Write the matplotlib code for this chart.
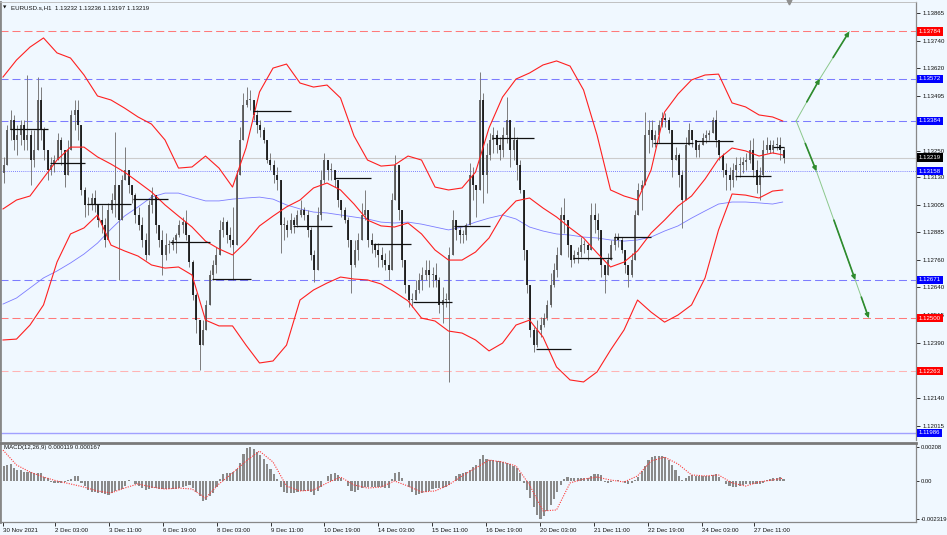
import numpy as np
import matplotlib
matplotlib.use('Agg')
import matplotlib.pyplot as plt
import matplotlib.transforms as mtransforms

plt.rcParams['font.family'] = ['Liberation Sans', 'DejaVu Sans']

# ---------------- DATA ----------------
# 2-hour candles (slot k spans hourly bars 2k, 2k+1)
first_open = 1.13150
high = [1.13222, 1.13365, 1.13432, 1.13410, 1.13365, 1.13387, 1.13387, 1.13589, 1.13343, 1.13343,
        1.13580, 1.13535, 1.13356, 1.13231, 1.13222, 1.13231, 1.13329, 1.13311, 1.13253, 1.13298,
        1.13432, 1.13477, 1.13477, 1.13320, 1.13087, 1.13042, 1.13060, 1.13074, 1.12993, 1.13007,
        1.12948, 1.13016, 1.13060, 1.13334, 1.13074, 1.13141, 1.13266, 1.13163, 1.13096, 1.13060,
        1.12998, 1.12953, 1.12881, 1.13029, 1.13087, 1.12998, 1.12908, 1.12895, 1.12881, 1.12850,
        1.12863, 1.12881, 1.12939, 1.12953, 1.12984, 1.12850, 1.12760, 1.12612, 1.12491, 1.12491,
        1.12581, 1.12715, 1.12760, 1.12818, 1.12939, 1.12953, 1.12939, 1.12908, 1.12998, 1.13163,
        1.13356, 1.13508, 1.13535, 1.13522, 1.13464, 1.13432, 1.13387, 1.13356, 1.13298, 1.13240,
        1.13208, 1.13177, 1.13096, 1.12953, 1.12939, 1.12971, 1.12953, 1.12984, 1.13029, 1.12998,
        1.12984, 1.12908, 1.12805, 1.12998, 1.13163, 1.13240, 1.13208, 1.13195, 1.13163, 1.13105,
        1.13016, 1.12998, 1.12953, 1.12818, 1.12850, 1.12881, 1.13016, 1.13074, 1.12926, 1.12881,
        1.12836, 1.12836, 1.12818, 1.12792, 1.12805, 1.13060, 1.13231, 1.13119, 1.12953, 1.12729,
        1.12639, 1.12612, 1.12671, 1.12702, 1.12729, 1.12760, 1.12760, 1.12729, 1.12747, 1.12684,
        1.12639, 1.12612, 1.12818, 1.12984, 1.12939, 1.12908, 1.12895, 1.12926, 1.13195, 1.13177,
        1.13087, 1.13602, 1.13508, 1.13284, 1.13329, 1.13356, 1.13343, 1.13311, 1.13356, 1.13490,
        1.13387, 1.13356, 1.13311, 1.13208, 1.13060, 1.12792, 1.12612, 1.12460, 1.12491, 1.12505,
        1.12523, 1.12581, 1.12702, 1.12747, 1.12818, 1.12998, 1.13038, 1.12908, 1.12818, 1.12805,
        1.12818, 1.12863, 1.12850, 1.12836, 1.13016, 1.13016, 1.12971, 1.12836, 1.12729, 1.12792,
        1.12850, 1.12881, 1.12881, 1.12863, 1.12792, 1.12729, 1.12792, 1.12984, 1.13105, 1.13119,
        1.13423, 1.13387, 1.13387, 1.13343, 1.13387, 1.13423, 1.13419, 1.13401, 1.13298, 1.13266,
        1.13240, 1.13163, 1.13311, 1.13374, 1.13343, 1.13298, 1.13284, 1.13329, 1.13343, 1.13343,
        1.13401, 1.13432, 1.13284, 1.13240, 1.13195, 1.13177, 1.13195, 1.13222, 1.13222, 1.13222,
        1.13240, 1.13298, 1.13307, 1.13208, 1.13177, 1.13298, 1.13311, 1.13298, 1.13298, 1.13311,
        1.13311, 1.13266]
low = [1.13105, 1.13186, 1.13298, 1.13253, 1.13231, 1.13275, 1.13253, 1.13253, 1.13096, 1.13177,
       1.13253, 1.13298, 1.13208, 1.13119, 1.13141, 1.13154, 1.13208, 1.13186, 1.13087, 1.13186,
       1.13253, 1.13343, 1.13298, 1.13051, 1.12953, 1.12962, 1.12984, 1.12975, 1.12908, 1.12881,
       1.12818, 1.12908, 1.12971, 1.12953, 1.12671, 1.12998, 1.13119, 1.13060, 1.13016, 1.12926,
       1.12895, 1.12818, 1.12760, 1.12881, 1.12971, 1.12881, 1.12818, 1.12693, 1.12760, 1.12792,
       1.12805, 1.12792, 1.12863, 1.12881, 1.12850, 1.12729, 1.12581, 1.12433, 1.12267, 1.12388,
       1.12447, 1.12581, 1.12671, 1.12702, 1.12792, 1.12863, 1.12836, 1.12818, 1.12671, 1.12998,
       1.13150, 1.13329, 1.13446, 1.13432, 1.13387, 1.13329, 1.13311, 1.13284, 1.13195, 1.13163,
       1.13105, 1.13074, 1.12792, 1.12850, 1.12863, 1.12881, 1.12881, 1.12908, 1.12953, 1.12939,
       1.12863, 1.12760, 1.12662, 1.12729, 1.12939, 1.13105, 1.13119, 1.13119, 1.13087, 1.12998,
       1.12953, 1.12926, 1.12818, 1.12612, 1.12729, 1.12760, 1.12881, 1.12939, 1.12818, 1.12792,
       1.12774, 1.12729, 1.12729, 1.12715, 1.12671, 1.12818, 1.13087, 1.12939, 1.12729, 1.12612,
       1.12550, 1.12550, 1.12581, 1.12612, 1.12626, 1.12671, 1.12639, 1.12639, 1.12639, 1.12523,
       1.12478, 1.12550, 1.12214, 1.12818, 1.12850, 1.12836, 1.12836, 1.12850, 1.12939, 1.13029,
       1.12953, 1.13266, 1.13016, 1.13060, 1.13208, 1.13240, 1.13240, 1.13208, 1.13222, 1.13284,
       1.13177, 1.13208, 1.13119, 1.13060, 1.12760, 1.12612, 1.12415, 1.12348, 1.12370, 1.12415,
       1.12460, 1.12491, 1.12550, 1.12639, 1.12684, 1.12792, 1.12881, 1.12774, 1.12729, 1.12747,
       1.12747, 1.12774, 1.12792, 1.12760, 1.12818, 1.12881, 1.12850, 1.12684, 1.12612, 1.12702,
       1.12760, 1.12805, 1.12818, 1.12792, 1.12702, 1.12639, 1.12684, 1.12792, 1.12971, 1.12984,
       1.13208, 1.13240, 1.13266, 1.13266, 1.13284, 1.13356, 1.13356, 1.13329, 1.13132, 1.13208,
       1.13087, 1.12904, 1.13119, 1.13284, 1.13266, 1.13222, 1.13222, 1.13284, 1.13284, 1.13298,
       1.13329, 1.13266, 1.13208, 1.13132, 1.13074, 1.13074, 1.13087, 1.13119, 1.13132, 1.13150,
       1.13163, 1.13195, 1.13132, 1.13060, 1.13029, 1.13132, 1.13240, 1.13240, 1.13240, 1.13253,
       1.13208, 1.13195]
close = [1.13186, 1.13343, 1.13387, 1.13298, 1.13320, 1.13365, 1.13298, 1.13320, 1.13208, 1.13253,
         1.13477, 1.13343, 1.13253, 1.13163, 1.13186, 1.13208, 1.13298, 1.13253, 1.13141, 1.13253,
         1.13410, 1.13432, 1.13365, 1.13074, 1.13007, 1.13007, 1.13038, 1.13007, 1.12939, 1.12917,
         1.12850, 1.12984, 1.13029, 1.13096, 1.12939, 1.13119, 1.13163, 1.13096, 1.13051, 1.12962,
         1.12917, 1.12850, 1.12783, 1.13007, 1.13051, 1.12917, 1.12850, 1.12783, 1.12827, 1.12827,
         1.12850, 1.12872, 1.12917, 1.12930, 1.12872, 1.12751, 1.12603, 1.12491, 1.12379, 1.12447,
         1.12559, 1.12693, 1.12738, 1.12783, 1.12895, 1.12930, 1.12872, 1.12850, 1.12827, 1.13141,
         1.13298, 1.13455, 1.13477, 1.13477, 1.13410, 1.13365, 1.13343, 1.13298, 1.13208, 1.13186,
         1.13141, 1.13119, 1.12917, 1.12917, 1.12895, 1.12939, 1.12917, 1.12962, 1.12984, 1.12962,
         1.12895, 1.12783, 1.12715, 1.12962, 1.13119, 1.13208, 1.13163, 1.13163, 1.13119, 1.13029,
         1.12984, 1.12939, 1.12850, 1.12738, 1.12805, 1.12850, 1.12962, 1.12984, 1.12850, 1.12827,
         1.12805, 1.12783, 1.12760, 1.12738, 1.12715, 1.13029, 1.13186, 1.12984, 1.12760, 1.12648,
         1.12581, 1.12581, 1.12626, 1.12671, 1.12693, 1.12715, 1.12693, 1.12693, 1.12671, 1.12559,
         1.12581, 1.12581, 1.12783, 1.12939, 1.12895, 1.12872, 1.12872, 1.12917, 1.13141, 1.13096,
         1.13074, 1.13477, 1.13141, 1.13231, 1.13298, 1.13320, 1.13275, 1.13253, 1.13320, 1.13387,
         1.13253, 1.13298, 1.13186, 1.13074, 1.12805, 1.12648, 1.12447, 1.12379, 1.12447, 1.12469,
         1.12500, 1.12559, 1.12648, 1.12715, 1.12783, 1.12962, 1.12939, 1.12827, 1.12760, 1.12783,
         1.12796, 1.12827, 1.12827, 1.12805, 1.12962, 1.12939, 1.12895, 1.12738, 1.12693, 1.12760,
         1.12827, 1.12863, 1.12850, 1.12805, 1.12738, 1.12693, 1.12760, 1.12962, 1.13074, 1.13096,
         1.13320, 1.13343, 1.13298, 1.13320, 1.13365, 1.13396, 1.13387, 1.13343, 1.13208, 1.13231,
         1.13141, 1.13029, 1.13275, 1.13343, 1.13298, 1.13253, 1.13275, 1.13307, 1.13320, 1.13329,
         1.13387, 1.13298, 1.13231, 1.13163, 1.13141, 1.13119, 1.13163, 1.13186, 1.13186, 1.13199,
         1.13208, 1.13253, 1.13163, 1.13096, 1.13141, 1.13253, 1.13275, 1.13253, 1.13275, 1.13275,
         1.13253, 1.13219]

# indicator samples every 8 hourly bars (+ last bar)
ind_hours = list(range(0, 464, 8)) + [462]
bb_upper = [1.13580, 1.13656, 1.13714, 1.13755, 1.13688, 1.13665, 1.13589, 1.13495, 1.13477, 1.13441,
            1.13401, 1.13369, 1.13298, 1.13172, 1.13177, 1.13226, 1.13172, 1.13087, 1.13262, 1.13513,
            1.13620, 1.13638, 1.13553, 1.13535, 1.13544, 1.13486, 1.13316, 1.13208, 1.13181, 1.13186,
            1.13226, 1.13208, 1.13087, 1.13074, 1.13083, 1.13154, 1.13352, 1.13490, 1.13571, 1.13598,
            1.13634, 1.13652, 1.13629, 1.13522, 1.13320, 1.13074, 1.13047, 1.13029, 1.13163, 1.13423,
            1.13504, 1.13567, 1.13589, 1.13593, 1.13464, 1.13446, 1.13410, 1.13401, 1.13383]
bb_middle = [1.12989, 1.13029, 1.13047, 1.13128, 1.13208, 1.13266, 1.13266, 1.13222, 1.13190, 1.13154,
             1.13110, 1.13065, 1.13007, 1.12957, 1.12908, 1.12845, 1.12810, 1.12783, 1.12841, 1.12913,
             1.12957, 1.12998, 1.13029, 1.13083, 1.13105, 1.13074, 1.13011, 1.12939, 1.12913, 1.12908,
             1.12926, 1.12877, 1.12805, 1.12760, 1.12760, 1.12796, 1.12859, 1.12962, 1.13025, 1.13038,
             1.12993, 1.12953, 1.12904, 1.12859, 1.12792, 1.12729, 1.12751, 1.12801, 1.12881, 1.12939,
             1.13002, 1.13047, 1.13123, 1.13213, 1.13262, 1.13249, 1.13226, 1.13240, 1.13231]
bb_lower = [1.12402, 1.12406, 1.12469, 1.12559, 1.12751, 1.12877, 1.12904, 1.12962, 1.12827, 1.12801,
            1.12778, 1.12738, 1.12724, 1.12729, 1.12693, 1.12491, 1.12465, 1.12465, 1.12379, 1.12299,
            1.12308, 1.12379, 1.12581, 1.12626, 1.12657, 1.12684, 1.12675, 1.12671, 1.12653, 1.12617,
            1.12577, 1.12500, 1.12487, 1.12442, 1.12433, 1.12402, 1.12353, 1.12388, 1.12469, 1.12491,
            1.12415, 1.12281, 1.12223, 1.12214, 1.12259, 1.12357, 1.12447, 1.12581, 1.12527, 1.12482,
            1.12514, 1.12559, 1.12680, 1.12895, 1.13056, 1.13051, 1.13038, 1.13069, 1.13074]
ma_blue = [1.12563, 1.12590, 1.12635, 1.12680, 1.12711, 1.12747, 1.12787, 1.12836, 1.12899, 1.12957,
           1.12998, 1.13042, 1.13060, 1.13060, 1.13042, 1.13025, 1.13025, 1.13033, 1.13038, 1.13042,
           1.13033, 1.13007, 1.12989, 1.12975, 1.12971, 1.12962, 1.12953, 1.12944, 1.12930, 1.12926,
           1.12930, 1.12921, 1.12908, 1.12895, 1.12908, 1.12930, 1.12948, 1.12962, 1.12944, 1.12908,
           1.12890, 1.12877, 1.12872, 1.12863, 1.12859, 1.12850, 1.12845, 1.12850, 1.12863, 1.12890,
           1.12913, 1.12948, 1.12980, 1.13011, 1.13020, 1.13020, 1.13016, 1.13011, 1.13020]

# MACD (units of 1e-5)
macd_hist = [92, 98, 104, 79, 67, 67, 55, 55, 55, 49,
             49, 49, 24, 18, -6, -12, -12, -12, -6, 6,
             12, 31, 31, -12, -31, -55, -67, -67, -73, -73,
             -79, -85, -73, -61, -55, -49, -31, 6, 0, -18,
             -31, -43, -55, -49, -43, -43, -49, -49, -49, -49,
             -49, -49, -43, -37, -31, -24, -43, -67, -92, -122,
             -116, -92, -73, -37, 12, 43, 49, 49, 55, 73,
             110, 165, 201, 207, 195, 177, 159, 134, 104, 73,
             43, 12, -37, -67, -73, -73, -73, -67, -61, -61,
             -61, -67, -85, -61, -37, 0, 31, 43, 49, 37,
             18, 0, -31, -61, -67, -55, -43, -37, -37, -37,
             -37, -37, -37, -43, -43, 12, 49, 55, 18, 0,
             -37, -67, -85, -79, -73, -67, -61, -49, -43, -43,
             -43, -37, -24, 0, 31, 43, 49, 55, 67, 85,
             98, 134, 159, 134, 128, 128, 122, 122, 116, 110,
             104, 92, 79, 49, -12, -55, -104, -159, -207, -232,
             -214, -183, -146, -110, -67, -24, 12, 24, 18, 18,
             18, 18, 18, 18, 31, 43, 43, 37, -6, -12,
             -6, 0, 6, 0, -12, -18, -12, 6, 24, 61,
             92, 128, 146, 153, 153, 153, 146, 128, 98, 67,
             31, 6, 18, 31, 37, 31, 31, 31, 31, 31,
             37, 43, 24, 0, -18, -31, -37, -37, -31, -24,
             -18, -18, -18, -18, -18, -12, 6, 12, 18, 18,
             24, 12]
macd_signal = [189, 98, 55, 24, 0, -18, -37, -61, -73, -43,
               -18, -37, -49, -43, -49, -104, -18, 49, 122, 183,
               116, -31, -61, -55, -12, 24, -24, -43, -37, 0,
               -31, -67, -61, -24, 31, 79, 128, 116, 92, -24,
               -183, -177, -12, 12, 24, 6, -6, 31, 122, 146,
               104, 37, 31, 37, -12, -31, -6, 6, 17]

# daily open segments
day_start = [4, 28, 50, 77, 99, 124, 148, 172, 196, 219, 243, 267, 290, 316, 338, 362, 385, 410, 434, 456]
day_open = [1.13347, 1.13195, 1.13011, 1.13033, 1.12841, 1.12675, 1.13428, 1.12913, 1.13128, 1.12832,
            1.12572, 1.12913, 1.13307, 1.12361, 1.12769, 1.12863, 1.13284, 1.13293, 1.13137, 1.13266]

# levels
red_levels = [1.13784, 1.12500]
pink_levels = [1.12263]
blue_levels = [1.13572, 1.13384, 1.12671]
dotted_level = 1.13158
solid_level = 1.11986
last_price = 1.13219

# projection arrows (hour index, price)
up_t = [470, 484, 501.5]
up_p = [1.13384, 1.13572, 1.13784]
dn_t = [470, 482, 505, 513]
dn_p = [1.13384, 1.13158, 1.12671, 1.12500]

price_ticks = [1.13865, 1.13740, 1.13620, 1.13495, 1.13250, 1.13130, 1.13005, 1.12885,
               1.12760, 1.12640, 1.12515, 1.12390, 1.12140, 1.12015]
box_levels = [1.13784, 1.13572, 1.13384, 1.13219, 1.13158, 1.12671, 1.12500, 1.12263, 1.11986]
box_colors = ['#ff0000', '#0000ff', '#0000ff', '#000000', '#0000ff', '#0000ff', '#ff0000', '#ff0000', '#0000ff']

date_ticks = [0, 31, 63, 95, 127, 159, 190, 222, 254, 286, 318, 350, 382, 414, 445]
date_labels = ['30 Nov 2021', '2 Dec 03:00', '3 Dec 11:00', '6 Dec 19:00', '8 Dec 03:00', '9 Dec 11:00',
               '10 Dec 19:00', '14 Dec 03:00', '15 Dec 11:00', '16 Dec 19:00', '20 Dec 03:00',
               '21 Dec 11:00', '22 Dec 19:00', '24 Dec 03:00', '27 Dec 11:00']

# ---------------- FIGURE ----------------
W, H = 947, 535
BG = '#f0f8ff'
fig = plt.figure(figsize=(W / 100, H / 100), dpi=100)
fig.patch.set_facecolor(BG)

def fx(px):
    return px / W

def fy(py):
    return 1 - py / H

ax = fig.add_axes([0, fy(440), fx(916), (440 - 2) / H])
axm = fig.add_axes([0, fy(522), fx(916), (522 - 443) / H])
XL = (-1.78, 541.0)
FS = 4.4
DASH = (0, (7.7, 3.8))

for a in (ax, axm):
    a.set_facecolor(BG)
    a.set_xlim(*XL)

ax.set_ylim(1.11954, 1.13916)

# level lines
full = XL
for lv in red_levels:
    ax.hlines(lv, *full, color='#ff7a7a', lw=0.75, ls=DASH, zorder=1)
for lv in pink_levels:
    ax.hlines(lv, *full, color='#ffb4b4', lw=0.75, ls=DASH, zorder=1)
for lv in blue_levels:
    ax.hlines(lv, *full, color='#7c7cff', lw=0.75, ls=DASH, zorder=1)
ax.hlines(dotted_level, *full, color='#5a5aff', lw=0.6, ls=(0, (1, 1.5)), zorder=1)
ax.hlines(solid_level, *full, color='#a0a0ff', lw=1.0, zorder=1)
ax.hlines(last_price, *full, color='#cccccc', lw=0.8, zorder=1)

# indicators
ax.plot(ind_hours, ma_blue, color='#7c7cff', lw=0.6, zorder=2)
for band in (bb_upper, bb_middle, bb_lower):
    ax.plot(ind_hours, band, color='#ff2020', lw=0.8, zorder=5)

# candles
hi_a = np.array(high)
lo_a = np.array(low)
cl_a = np.array(close)
op_a = np.concatenate([[first_open], cl_a[:-1]])
hi_a = np.maximum(hi_a, np.maximum(op_a, cl_a))
lo_a = np.minimum(lo_a, np.minimum(op_a, cl_a))
t = 2 * np.arange(len(cl_a)) + 0.5
ax.vlines(t, lo_a, hi_a, color='#7c7c7c', lw=0.7, zorder=3)
b_lo = np.minimum(op_a, cl_a)
b_hi = np.maximum(np.maximum(op_a, cl_a), b_lo + 0.00004)
bear = cl_a < op_a
ax.vlines(t[bear], b_lo[bear], b_hi[bear], color='#111111', lw=1.25, zorder=4)
ax.vlines(t[~bear], b_lo[~bear], b_hi[~bear], color='#555555', lw=1.25, zorder=4)

# daily open segments
ds = np.array(day_start, dtype=float)
de = np.concatenate([ds[1:] - 1.2, [463.0]])
ax.hlines(day_open, ds, de, color='#111111', lw=0.9, zorder=6)

# arrows
def arrow_path(ts, ps):
    for i in range(len(ts) - 1):
        t0, p0, t1, p1 = ts[i], ps[i], ts[i + 1], ps[i + 1]
        ax.plot([t0, t1], [p0, p1], color='#8cc88c', lw=0.7, zorder=6)
        tm = t0 + 0.45 * (t1 - t0)
        pm = p0 + 0.45 * (p1 - p0)
        ax.annotate('', xy=(t1, p1), xytext=(tm, pm),
                    arrowprops=dict(arrowstyle='-|>', color='#2e8b2e', lw=1.2,
                                    mutation_scale=6, shrinkA=0, shrinkB=0), zorder=7)

arrow_path(up_t, up_p)
arrow_path(dn_t, dn_p)

# right price axis
ax.yaxis.tick_right()
ax.set_yticks(price_ticks)
ax.set_yticklabels([f'{v:.5f}' for v in price_ticks])
ax.tick_params(axis='y', labelsize=FS, length=3, width=0.6, pad=2, colors='#111111')
ax.set_xticks([])

trans = mtransforms.blended_transform_factory(ax.transAxes, ax.transData)
for lv, col in zip(box_levels, box_colors):
    ax.text(1.0 + 3.0 / 916, lv, f'{lv:.5f}', transform=trans, ha='left', va='center',
            fontsize=FS, color='white', clip_on=False, zorder=20,
            bbox=dict(boxstyle='square,pad=0.28', fc=col, ec='none'))

# spines
for s in ax.spines.values():
    s.set_color('#888888')
ax.spines['left'].set_linewidth(2.0)
ax.spines['right'].set_linewidth(0.9)
ax.spines['top'].set_linewidth(0.6)
ax.spines['top'].set_color('#b8b8b8')
ax.spines['bottom'].set_visible(False)

# shift marker
ax.plot([466], [1.0], transform=mtransforms.blended_transform_factory(ax.transData, ax.transAxes),
        marker='v', ms=3.5, color='#909090', clip_on=False, zorder=8)

# MACD panel
mh = np.array(macd_hist) * 1e-5
axm.bar(t, mh, width=1.25, color='#8a8a8a', edgecolor='none', zorder=2)
axm.plot(ind_hours, np.array(macd_signal) * 1e-5, color='#ff3a3a', lw=0.8,
         ls=(0, (1, 1.2)), zorder=3)
axm.set_ylim(-0.002506, 0.002323)
axm.yaxis.tick_right()
axm.set_yticks([0.00208, 0.0, -0.002319])
axm.set_yticklabels(['0.00208', '0.00', '-0.002319'])
axm.tick_params(axis='y', labelsize=4.2, length=2, width=0.6, pad=1.2, colors='#111111')
axm.set_xticks(date_ticks)
axm.set_xticklabels(date_labels)
axm.tick_params(axis='x', labelsize=FS, length=3, width=0.6, pad=1, colors='#111111')
for lab in axm.get_xticklabels():
    lab.set_ha('left')
for s in axm.spines.values():
    s.set_color('#888888')
axm.spines['top'].set_linewidth(2.0)
axm.spines['top'].set_color('#7a7a7a')
axm.spines['left'].set_linewidth(2.0)
axm.spines['right'].set_linewidth(0.9)
axm.spines['bottom'].set_linewidth(0.9)

# texts
fig.text(fx(3), fy(7.5), '\u25bc', fontsize=3.2, va='center', ha='left', color='#111111',
         family=['DejaVu Sans'])
fig.text(fx(11), fy(7.5), 'EURUSD.s,H1  1.13232 1.13236 1.13197 1.13219', fontsize=FS,
         va='center', ha='left', color='#111111')
fig.text(fx(4), fy(448), 'MACD(12,26,9) 0.000119 0.000167', fontsize=FS,
         va='center', ha='left', color='#111111')

fig.savefig('out.png', dpi=100, facecolor=BG)
